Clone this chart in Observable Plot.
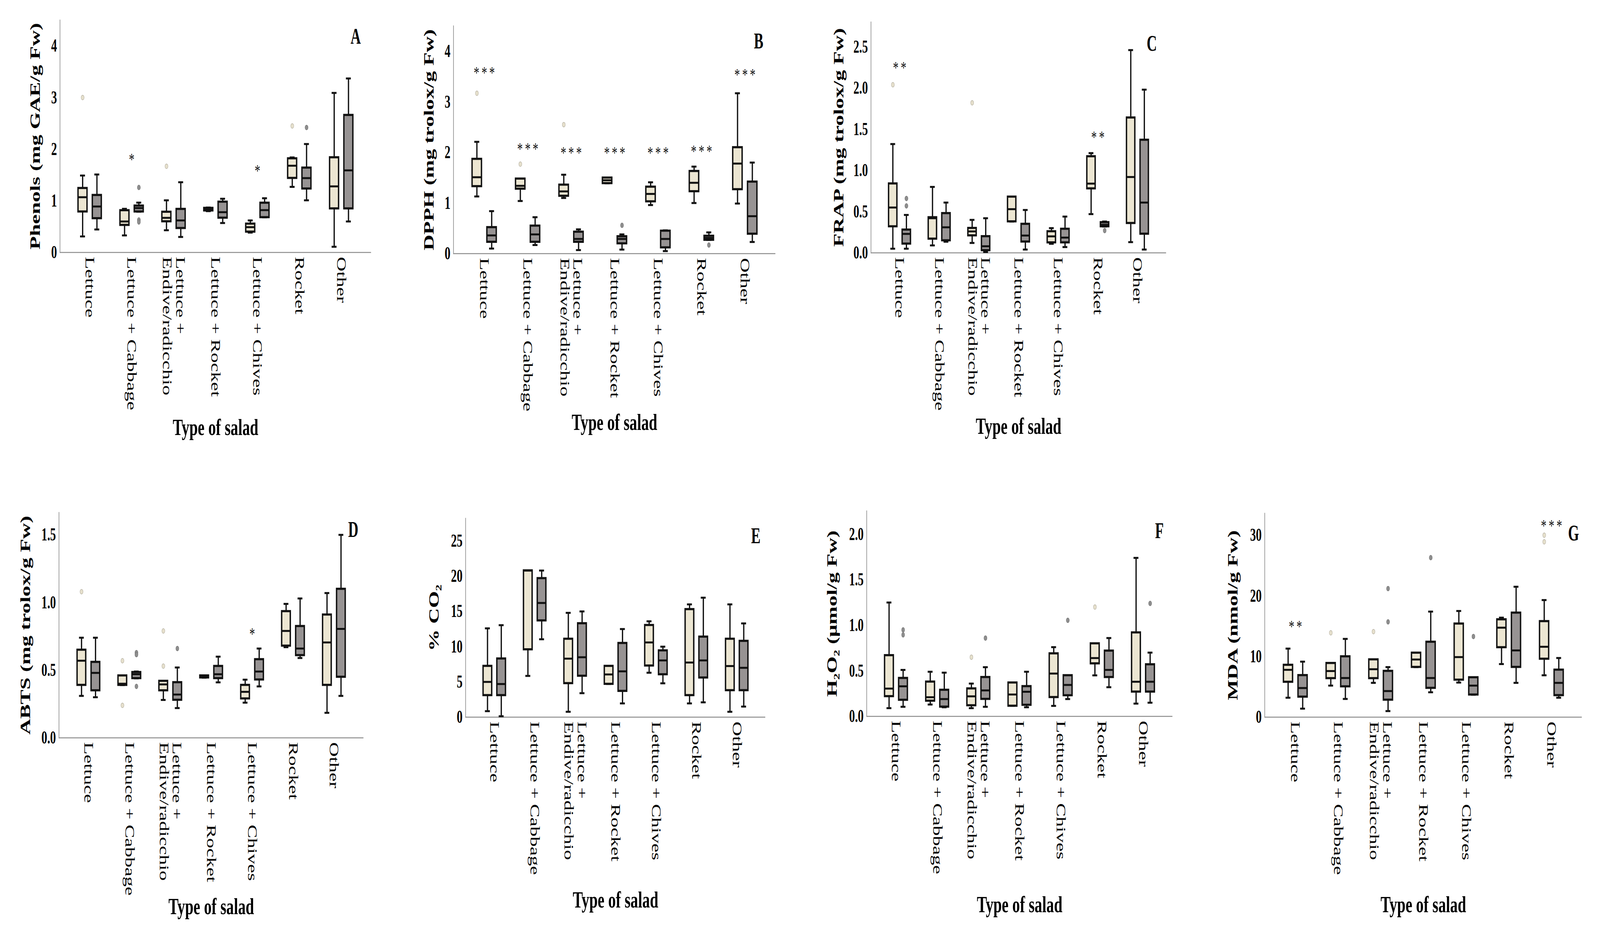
<!DOCTYPE html>
<html><head><meta charset="utf-8">
<script src="https://cdn.jsdelivr.net/npm/d3@7"></script>
<script src="https://cdn.jsdelivr.net/npm/@observablehq/plot@0.6"></script>
<style>
html,body{margin:0;padding:0;background:#fff;overflow:hidden;}
#page{position:relative;overflow:hidden;background:#fff;}
#root{position:absolute;left:0;top:0;width:6335px;height:2379px;overflow:hidden;background:#fff;transform-origin:0 0;}
#root > div{position:absolute;}
</style></head><body><div id="page"><div id="root"></div></div>
<script>
// ---------- data: [min, Q1, median, Q3, max] per category ----------
const categories = ["Lettuce", "Lettuce + Cabbage", "Lettuce +\nEndive/radicchio", "Lettuce + Rocket", "Lettuce + Chives", "Rocket", "Other"];
const xTitle = "Type of salad";

// A  Phenols
const phenolsLight = [[0.31,0.79,1.07,1.245,1.49],[0.33,0.53,0.60,0.815,0.845],[0.43,0.60,0.67,0.785,1.01],[0.80,0.81,0.83,0.86,0.87],[0.385,0.40,0.49,0.555,0.62],[1.27,1.44,1.68,1.82,1.84],[0.11,0.85,1.28,1.84,3.09]];
const phenolsDark  = [[0.445,0.66,0.89,1.11,1.51],[0.79,0.79,0.86,0.905,0.965],[0.30,0.47,0.62,0.84,1.36],[0.57,0.67,0.78,0.98,1.04],[0.68,0.68,0.82,0.96,1.05],[1.01,1.235,1.44,1.64,2.10],[0.60,0.85,1.59,2.66,3.37]];
const phenolsOutLight = [[0,3.0],[2,1.67],[5,2.45]];
const phenolsOutDark  = [[1,0.63],[1,0.59],[1,1.26],[5,2.42]];
const phenolsStars = [[1,"*",1.86],[4,"*",1.64]];

// B  DPPH
const dpphLight = [[1.13,1.33,1.51,1.87,2.21],[1.04,1.28,1.34,1.48,1.48],[1.10,1.14,1.23,1.36,1.56],[1.39,1.39,1.45,1.50,1.50],[0.96,1.03,1.18,1.32,1.41],[1.00,1.23,1.40,1.63,1.72],[0.99,1.27,1.78,2.10,3.17]];
const dpphDark  = [[0.10,0.23,0.36,0.52,0.84],[0.17,0.23,0.38,0.55,0.72],[0.07,0.23,0.29,0.43,0.48],[0.08,0.20,0.29,0.34,0.38],[0.05,0.12,0.29,0.45,0.46],[0.27,0.27,0.31,0.35,0.42],[0.23,0.39,0.74,1.42,1.80]];
const dpphOutLight = [[0,3.17],[1,1.77],[2,2.55]];
const dpphOutDark  = [[3,0.56],[5,0.17]];
const dpphStars = [[0,"***",3.63],[1,"***",2.13],[2,"***",2.05],[3,"***",2.05],[4,"***",2.05],[5,"***",2.08],[6,"***",3.59]];

// C  FRAP
const frapLight = [[0.05,0.32,0.55,0.84,1.32],[0.09,0.17,0.42,0.43,0.80],[0.12,0.21,0.26,0.30,0.40],[0.38,0.38,0.53,0.68,0.68],[0.11,0.125,0.20,0.26,0.30],[0.47,0.78,0.84,1.17,1.21],[0.13,0.36,0.92,1.64,2.46]];
const frapDark  = [[0.05,0.11,0.23,0.28,0.46],[0.135,0.15,0.31,0.48,0.61],[0.01,0.03,0.08,0.20,0.42],[0.04,0.135,0.21,0.35,0.52],[0.07,0.125,0.185,0.29,0.44],[0.32,0.32,0.34,0.37,0.38],[0.04,0.23,0.61,1.37,1.98]];
const frapOutLight = [[0,2.04],[2,1.82]];
const frapOutDark  = [[0,0.66],[0,0.57],[5,0.27]];
const frapStars = [[0,"**",2.28],[5,"**",1.44]];

// D  ABTS
const abtsLight = [[0.31,0.39,0.57,0.65,0.74],[0.39,0.39,0.40,0.46,0.46],[0.28,0.35,0.395,0.42,0.42],[0.445,0.445,0.455,0.46,0.46],[0.26,0.29,0.34,0.39,0.43],[0.67,0.68,0.79,0.935,0.99],[0.185,0.39,0.705,0.91,1.07]];
const abtsDark  = [[0.30,0.35,0.48,0.56,0.74],[0.44,0.44,0.47,0.485,0.49],[0.22,0.28,0.32,0.41,0.52],[0.41,0.44,0.47,0.53,0.60],[0.38,0.43,0.49,0.58,0.66],[0.59,0.61,0.66,0.825,1.03],[0.31,0.45,0.805,1.10,1.50]];
const abtsOutLight = [[0,1.08],[1,0.57],[1,0.24],[2,0.79],[2,0.53]];
const abtsOutDark  = [[1,0.38],[1,0.63],[1,0.615],[2,0.66]];
const abtsStars = [[4,"*",0.79]];

// E  % CO2
const co2Light = [[0.85,3.1,5.0,7.25,12.6],[5.85,9.6,20.8,20.8,20.8],[0.76,4.8,8.3,11.1,14.8],[4.7,4.7,6.06,7.25,7.25],[6.3,7.3,10.6,13.05,13.6],[1.95,3.1,7.75,15.3,16.0],[0.76,3.8,7.25,11.1,16.0]];
const co2Dark  = [[0.13,3.1,4.7,8.3,13.05],[11.05,13.7,16.2,19.7,20.8],[3.4,5.85,8.5,13.3,15.0],[1.95,3.7,6.5,10.5,12.5],[4.8,6.06,8.05,9.45,10.0],[2.1,5.6,8.05,11.4,16.95],[1.5,3.8,7.0,10.8,13.3]];
const co2OutLight = [];
const co2OutDark  = [];
const co2Stars = [];

// F  H2O2
const h2o2Light = [[0.09,0.22,0.305,0.67,1.25],[0.13,0.17,0.21,0.38,0.49],[0.09,0.12,0.22,0.305,0.36],[0.115,0.115,0.24,0.37,0.37],[0.115,0.21,0.47,0.69,0.76],[0.45,0.58,0.64,0.80,0.80],[0.14,0.27,0.38,0.92,1.74]];
const h2o2Dark  = [[0.105,0.18,0.33,0.42,0.51],[0.10,0.105,0.19,0.29,0.48],[0.105,0.19,0.285,0.43,0.54],[0.10,0.125,0.27,0.33,0.49],[0.19,0.23,0.345,0.45,0.45],[0.32,0.43,0.51,0.72,0.86],[0.15,0.27,0.38,0.57,0.70]];
const h2o2OutLight = [[2,0.65],[5,1.20]];
const h2o2OutDark  = [[0,0.95],[0,0.895],[2,0.86],[4,1.055],[6,1.24]];
const h2o2Stars = [];

// G  MDA
const mdaLight = [[3.2,5.8,7.8,8.6,11.3],[5.2,6.4,7.6,8.9,8.9],[5.65,6.4,7.9,9.5,9.5],[8.25,8.25,9.5,10.6,10.6],[5.7,6.15,9.9,15.4,17.5],[8.75,11.5,14.75,16.1,16.4],[6.9,9.6,11.6,15.8,19.3]];
const mdaDark  = [[1.4,3.35,4.8,6.9,9.15],[3.0,5.05,6.45,10.0,12.9],[1.0,2.85,4.3,7.6,8.25],[4.1,4.8,6.45,12.4,17.4],[3.7,3.7,5.2,6.55,6.55],[5.65,8.25,11.0,17.2,21.5],[3.2,3.6,5.65,7.8,9.75]];
const mdaOutLight = [[1,13.9],[2,14.1],[6,30.0],[6,28.9]];
const mdaOutDark  = [[2,21.2],[2,15.7],[3,26.3],[4,13.3]];
const mdaStars = [[0,"**",15.4],[6,"***",32.0]];

// tick values
const ticksA = [0,1,2,3,4];
const ticksB = [0,1,2,3,4];
const ticksC = [0,0.5,1.0,1.5,2.0,2.5];
const ticksD = [0,0.5,1.0,1.5];
const ticksE = [0,5,10,15,20,25];
const ticksF = [0,0.5,1.0,1.5,2.0];
const ticksG = [0,10,20,30];

// ---------- layout (frame position in page pixels) ----------
const panels = [
  {letter:"A", title:"Phenols (mg GAE/g Fw)", light:phenolsLight, dark:phenolsDark, outL:phenolsOutLight, outD:phenolsOutDark, stars:phenolsStars, ticks:ticksA, fmt:"d",
   left:237, right:1469, top:51, bottom:646, ymax:4.5, tdx:-97, ldx:-61, ldy:43, sdy:448},
  {letter:"B", title:"DPPH (mg trolox/g Fw)", light:dpphLight, dark:dpphDark, outL:dpphOutLight, outD:dpphOutDark, stars:dpphStars, ticks:ticksB, fmt:"d",
   left:1795, right:3070, top:66, bottom:649, ymax:4.5, tdx:-96, ldx:-67, ldy:40, sdy:432},
  {letter:"C", title:"FRAP (mg trolox/g Fw)", light:frapLight, dark:frapDark, outL:frapOutLight, outD:frapOutDark, stars:frapStars, ticks:ticksC, fmt:".1f",
   left:3448, right:4617, top:56, bottom:647, ymax:2.8, tdx:-128, ldx:-57, ldy:56, sdy:444},
  {letter:"D", title:"ABTS (mg trolox/g Fw)", light:abtsLight, dark:abtsDark, outL:abtsOutLight, outD:abtsOutDark, stars:abtsStars, ticks:ticksD, fmt:".1f",
   left:233, right:1439, top:1312, bottom:1889, ymax:1.665, tdx:-133, ldx:-41, ldy:45, sdy:432},
  {letter:"E", title:"% CO\u2082", light:co2Light, dark:co2Dark, outL:co2OutLight, outD:co2OutDark, stars:co2Stars, ticks:ticksE, fmt:"d",
   left:1843, right:3030, top:1327, bottom:1836, ymax:28.2, tdx:-125, ldx:-38, ldy:46, sdy:468},
  {letter:"F", title:"H\u2082O\u2082 (\u03bcmol/g Fw)", light:h2o2Light, dark:h2o2Dark, outL:h2o2OutLight, outD:h2o2OutDark, stars:h2o2Stars, ticks:ticksF, fmt:".1f",
   left:3431, right:4642, top:1308, bottom:1834, ymax:2.255, tdx:-137, ldx:-52, ldy:52, sdy:482},
  {letter:"G", title:"MDA (nmol/g Fw)", light:mdaLight, dark:mdaDark, outL:mdaOutLight, outD:mdaOutDark, stars:mdaStars, ticks:ticksG, fmt:"d",
   left:5007, right:6263, top:1314, bottom:1836, ymax:33.6, tdx:-126, ldx:-33, ldy:52, sdy:480}
];

const LIGHT = "#ECE6D2", DARK = "#979393", INK = "#111", AXIS = "#8e8e8e";
const FONT = "'Liberation Serif','Times New Roman','DejaVu Serif',serif";

const toRows = arr => arr.map((v, i) => ({cat: categories[i], min: v[0], q1: v[1], med: v[2], q3: v[3], max: v[4]}));
const toPts = arr => arr.map(([i, v]) => ({cat: categories[i], v}));
const toStars = arr => arr.map(([i, s, v]) => ({cat: categories[i], s: s.split("").join("\u2009"), v}));

function boxMarks(data, outliers, step, sign, fill, outFill, outStroke) {
  const off = 0.17 * step * sign;
  const sw = 5.5;
  const bw = 0.25 * step - sw;
  const half = step / 2;
  const inL = half + off - bw / 2, inR = half - off - bw / 2;
  const capL = half + off - 10, capR = half - off - 10;
  return [
    Plot.ruleX(data, {x: "cat", y1: "min", y2: "max", dx: off, stroke: INK, strokeWidth: 5}),
    Plot.tickY(data, {x: "cat", y: "min", insetLeft: capL, insetRight: capR, stroke: INK, strokeWidth: 5}),
    Plot.tickY(data, {x: "cat", y: "max", insetLeft: capL, insetRight: capR, stroke: INK, strokeWidth: 5}),
    Plot.barY(data, {x: "cat", y1: "q1", y2: "q3", fill, stroke: INK, strokeWidth: sw, insetLeft: inL, insetRight: inR}),
    Plot.tickY(data, {x: "cat", y: "med", insetLeft: inL, insetRight: inR, stroke: INK, strokeWidth: 5}),
    Plot.dot(outliers, {x: "cat", y: "v", dx: off, r: 6, fill: outFill, stroke: outStroke, strokeWidth: 1.5})
  ];
}

const root = document.getElementById("root");
const page = document.getElementById("page");
const mL = 210, mR = 70, mT = 30, mB = 540;

for (const p of panels) {
  const W = p.right - p.left, H = p.bottom - p.top;
  const step = W / (categories.length + 0.4);
  const chart = Plot.plot({
    width: W + mL + mR,
    height: H + mT + mB,
    marginLeft: mL, marginRight: mR, marginTop: mT, marginBottom: mB,
    style: {fontFamily: FONT, color: "#000", background: "#fff", overflow: "visible", maxWidth: "none"},
    x: {type: "band", domain: categories, paddingInner: 0, paddingOuter: 0.2},
    y: {domain: [0, p.ymax]},
    marks: [
      Plot.frame({anchor: "left", stroke: AXIS, strokeWidth: 2.5}),
      Plot.ruleY([0], {stroke: AXIS, strokeWidth: 2.5}),
      Plot.axisY({ticks: p.ticks, tickFormat: d3.format(p.fmt), tickSize: 0, tickPadding: 12, fontSize: 46, fontWeight: "bold", label: null}),
      Plot.axisX({tickRotate: 90, tickSize: 0, tickPadding: 11, fontSize: 52, label: null}),
      boxMarks(toRows(p.light), toPts(p.outL), step, -1, LIGHT, "#E6E0CC", "#B9B4A6"),
      boxMarks(toRows(p.dark), toPts(p.outD), step, 1, DARK, "#8E8E8E", "#7a7a7a"),
      Plot.text(toStars(p.stars), {x: "cat", y: "v", text: "s", fontSize: 44, dy: 8, fill: "#111"}),
      Plot.text([p.title], {frameAnchor: "left", rotate: -90, dx: p.tdx, fontSize: 56, fontWeight: "bold", textAnchor: "middle", lineAnchor: "middle"}),
      Plot.text([p.letter], {frameAnchor: "top-right", dx: p.ldx, dy: p.ldy, fontSize: 56, fontWeight: "bold", textAnchor: "middle", lineAnchor: "middle"}),
      Plot.text([xTitle], {frameAnchor: "bottom", dy: p.sdy, fontSize: 60, fontWeight: "bold", textAnchor: "middle", lineAnchor: "middle"})
    ]
  });
  const wrap = document.createElement("div");
  wrap.style.left = (p.left - mL) + "px";
  wrap.style.top = (p.top - mT) + "px";
  wrap.appendChild(chart);
  root.appendChild(wrap);
}

function fit() {
  const vw = window.innerWidth || document.documentElement.clientWidth;
  const vh = window.innerHeight || document.documentElement.clientHeight;
  const sx = vw / 6335, sy = vh / 2379;
  root.style.transform = `scale(${sx}, ${sy})`;
  page.style.width = vw + "px";
  page.style.height = vh + "px";
}
fit();
window.addEventListener("resize", fit);
</script>
</body></html>
